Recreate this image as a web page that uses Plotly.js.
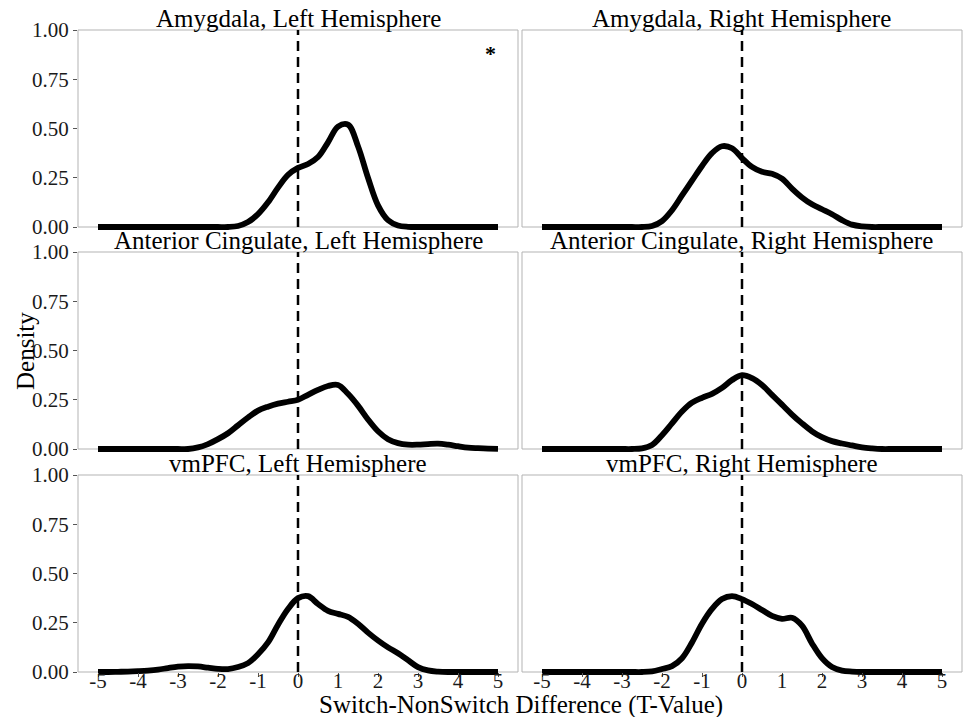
<!DOCTYPE html>
<html>
<head>
<meta charset="utf-8">
<script src="https://cdn.plot.ly/plotly-3.0.1.min.js"></script>
<style>html,body{margin:0;padding:0;background:#fff;}#chart{width:963px;height:717px;}</style>
</head>
<body>
<div id="chart"></div>
<script>
// ---- data ----
const xGrid = [-5,-4.75,-4.5,-4.25,-4,-3.75,-3.5,-3.25,-3,-2.75,-2.5,-2.25,-2,-1.75,-1.5,-1.25,-1,-0.75,-0.5,-0.25,0,
  0.25,0.5,0.75,1,1.25,1.5,1.75,2,2.25,2.5,2.75,3,3.25,3.5,3.75,4,4.25,4.5,4.75,5];

const panelTitles = ["Amygdala, Left Hemisphere","Amygdala, Right Hemisphere",
  "Anterior Cingulate, Left Hemisphere","Anterior Cingulate, Right Hemisphere",
  "vmPFC, Left Hemisphere","vmPFC, Right Hemisphere"];

const amygdalaLeft = [0,0,0,0,0,0,0,0,0,0,0,0,0,0,
  0.005,0.025,0.065,0.125,0.20,0.265,0.30,0.32,0.355,0.43,0.51,0.52,0.41,0.25,0.11,0.035,0.008,0.001,
  0,0,0,0,0,0,0,0,0];
const amygdalaRight = [0,0,0,0,0,0,0,0,0,0,0,
  0.005,0.03,0.085,0.16,0.235,0.31,0.375,0.41,0.40,0.35,0.305,0.28,0.27,0.245,0.195,0.15,0.115,0.09,0.065,0.035,0.012,0.003,
  0,0,0,0,0,0,0,0];
const cingulateLeft = [0,0,0,0,0,0,0,0,0,0,
  0.008,0.025,0.05,0.08,0.12,0.16,0.195,0.215,0.23,0.24,0.25,0.275,0.30,0.32,0.325,0.28,0.22,0.15,0.09,0.05,0.03,
  0.022,0.022,0.025,0.027,0.022,0.014,0.007,0.004,0.002,0.001];
const cingulateRight = [0,0,0,0,0,0,0,0,0,0,
  0.003,0.02,0.07,0.13,0.19,0.235,0.26,0.28,0.31,0.35,0.375,0.36,0.325,0.275,0.225,0.175,0.13,0.09,0.06,0.04,0.028,0.018,0.008,0.003,
  0,0,0,0,0,0,0];
const vmpfcLeft = [0,0,0.001,0.002,0.004,0.007,0.012,0.02,0.027,0.03,0.028,0.022,0.016,0.015,0.025,0.045,0.09,0.15,0.24,0.32,0.375,
  0.385,0.345,0.31,0.295,0.28,0.245,0.2,0.16,0.125,0.095,0.06,0.025,0.008,0.002,0,0,0,0,0,0];
const vmpfcRight = [0,0,0,0,0,0,0,0,0,0,0,
  0.003,0.015,0.03,0.07,0.15,0.245,0.32,0.37,0.385,0.37,0.345,0.315,0.285,0.27,0.275,0.235,0.145,0.07,0.025,0.007,0.002,
  0,0,0,0,0,0,0,0,0];

const xTickVals = [-5,-4,-3,-2,-1,0,1,2,3,4,5];
const xTickText = ["-5","-4","-3","-2","-1","0","1","2","3","4","5"];
const yTickVals = [0,0.25,0.5,0.75,1];
const yTickText = ["0.00","0.25","0.50","0.75","1.00"];
const refLineX = 0;
const starPos = {x: 4.8, y: 0.88};

const series = [amygdalaLeft, amygdalaRight, cingulateLeft, cingulateRight, vmpfcLeft, vmpfcRight];

// ---- layout geometry (pixels) ----
const W = 963, H = 717;
const colPx = [[78,518],[522,962]];
const rowPx = [[30,227],[252,449],[475,672]];
const yPad = 0.015; // small extension below 0 so the thick baseline isn't clipped
const labelLift = 6; // px: x tick labels sit closer to the axis than Plotly's default
const FONT = "Liberation Serif, Times New Roman, serif";
const tickFont = {family: FONT, size: 21, color: "#1a1a1a"};

const traces = [];
const layout = {
  width: W, height: H,
  margin: {l:0,r:0,t:0,b:0},
  paper_bgcolor: "#fff", plot_bgcolor: "#fff",
  showlegend: false,
  font: {family: FONT, color: "#000", size: 21},
  shapes: [], annotations: []
};

for (let i = 0; i < 6; i++) {
  const r = Math.floor(i/2), c = i % 2;
  const n = i === 0 ? "" : String(i+1);
  const [px0, px1] = colPx[c];
  const [T, B] = rowPx[r];
  const Bext = B + yPad*(B-T);
  const xd = [px0/W, px1/W];
  const yd = [1 - Bext/H, 1 - T/H];
  const bottomRow = r === 2, leftCol = c === 0;

  traces.push({
    type: "scatter", mode: "lines",
    x: xGrid, y: series[i],
    xaxis: "x"+n, yaxis: "y"+n,
    line: {color: "#000", width: 5.8, shape: "spline", smoothing: 1},
    hoverinfo: "skip"
  });

  layout["xaxis"+n] = {
    domain: xd, range: [-5.5, 5.5], anchor: bottomRow ? "free" : "y"+n,
    position: bottomRow ? 1 - B/H : undefined,
    showgrid: false, zeroline: false, showline: false,
    tickmode: "array", tickvals: xTickVals, ticktext: xTickText,
    ticks: bottomRow ? "outside" : "", ticklen: 4, tickwidth: 1, tickcolor: "#555",
    showticklabels: false, tickfont: tickFont,
    fixedrange: true
  };
  layout["yaxis"+n] = {
    domain: yd, range: [-yPad, 1], anchor: "x"+n,
    showgrid: false, zeroline: false, showline: false,
    tickmode: "array", tickvals: yTickVals, ticktext: yTickText,
    ticks: leftCol ? "outside" : "", ticklen: 4, tickwidth: 1, tickcolor: "#555",
    showticklabels: leftCol, tickfont: tickFont,
    fixedrange: true
  };

  if (bottomRow) {
    // label-only axis overlaying the bottom axis, lifted a few px
    const ln = String(7 + c);
    layout["xaxis"+ln] = {
      overlaying: "x"+n, range: [-5.5, 5.5], anchor: "free",
      position: 1 - (B - labelLift)/H,
      showgrid: false, zeroline: false, showline: false,
      tickmode: "array", tickvals: xTickVals, ticktext: xTickText,
      ticks: "", showticklabels: true, tickfont: tickFont, fixedrange: true
    };
    traces.push({type: "scatter", mode: "lines", x: [], y: [], xaxis: "x"+ln, yaxis: "y"+n, hoverinfo: "skip"});
  }

  // panel frame
  layout.shapes.push({
    type: "rect", xref: "x"+n+" domain", yref: "y"+n+" domain",
    x0: 0, x1: 1, y0: yPad/(1+yPad), y1: 1,
    line: {color: "#b3b3b3", width: 1}, fillcolor: "rgba(0,0,0,0)", layer: "below"
  });
  // dashed reference line
  layout.shapes.push({
    type: "line", xref: "x"+n, yref: "y"+n,
    x0: refLineX, x1: refLineX, y0: 0, y1: 1,
    line: {color: "#000", width: 2.5, dash: "10px,6px"}, layer: "above"
  });
  // strip title
  layout.annotations.push({
    text: panelTitles[i], xref: "paper", yref: "paper",
    x: (xd[0]+xd[1])/2, y: 1 - (T - 11.5)/H, xanchor: "center", yanchor: "middle",
    showarrow: false, font: {family: FONT, size: 25, color: "#000"}
  });
}

// significance star
layout.annotations.push({
  text: "<b>*</b>", xref: "x", yref: "y", x: starPos.x, y: starPos.y,
  showarrow: false, font: {family: FONT, size: 22, color: "#000"}
});
// axis titles
layout.annotations.push({
  text: "Switch-NonSwitch Difference (T-Value)", xref: "paper", yref: "paper",
  x: 521/W, y: 1 - 705/H, xanchor: "center", yanchor: "middle", showarrow: false,
  font: {family: FONT, size: 25, color: "#000"}
});
layout.annotations.push({
  text: "Density", xref: "paper", yref: "paper",
  x: 25/W, y: 1 - 351/H, xanchor: "center", yanchor: "middle", textangle: -90, showarrow: false,
  font: {family: FONT, size: 25, color: "#000"}
});

Plotly.newPlot("chart", traces, layout, {displayModeBar: false, staticPlot: true});
</script>
</body>
</html>
